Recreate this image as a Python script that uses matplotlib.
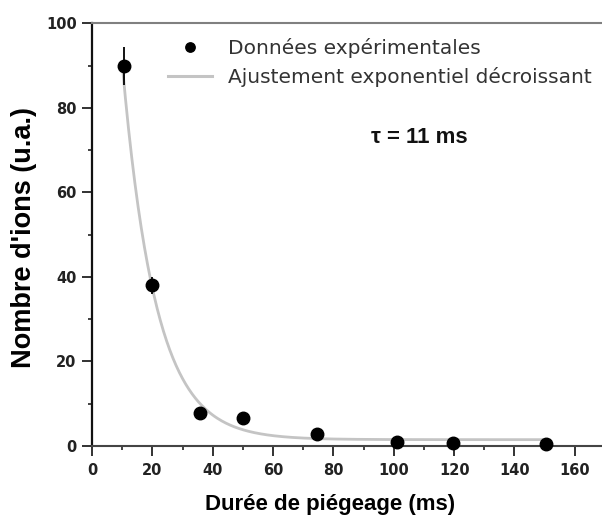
import numpy as np
import matplotlib
matplotlib.use("Agg")
import matplotlib.pyplot as plt
from matplotlib.ticker import MultipleLocator

# ---- data ----
time_ms = [10.5, 20, 35.8, 50, 74.7, 101, 119.5, 150.5]
ions = [90, 38, 7.8, 6.6, 2.8, 0.9, 0.7, 0.5]
ions_err = [4.5, 2.0, 1.5, 0.8, 0.6, 1.3, 0.6, 0.4]

fit_tau = 11.0
fit_amp = 221.0
fit_offset = 1.5
fit_start, fit_end = 10.0, 150.0

x_ticks = [0, 20, 40, 60, 80, 100, 120, 140, 160]
y_ticks = [0, 20, 40, 60, 80, 100]

legend_labels = ["Données expérimentales", "Ajustement exponentiel décroissant"]
xlabel = "Durée de piégeage (ms)"
ylabel = "Nombre d'ions (u.a.)"
tau_text = "τ = 11 ms"

# ---- figure ----
W, H = 602, 523
fig = plt.figure(figsize=(W / 100, H / 100), dpi=100)
ax_left, ax_right = 92 / W, 1.0
ax_bottom, ax_top = 1 - 446 / H, 1 - 23.3 / H
ax = fig.add_axes([ax_left, ax_bottom, ax_right - ax_left, ax_top - ax_bottom])
AXH = 446 - 23.3
AXW = W - 92

xf = np.linspace(fit_start, fit_end, 400)
yf = fit_offset + fit_amp * np.exp(-xf / fit_tau)
ax.plot(xf, yf, color="#c4c4c4", lw=2.0, zorder=2)

ax.errorbar(time_ms, ions, yerr=ions_err, fmt="none", ecolor="black",
            elinewidth=1.3, capsize=0, zorder=3, clip_on=False)
pts, = ax.plot(time_ms, ions, "o", color="black", ms=9, zorder=4, clip_on=False)

ax.set_xlim(0, 169)
ax.set_ylim(0, 100)
ax.set_xticks(x_ticks)
ax.set_yticks(y_ticks)
ax.xaxis.set_minor_locator(MultipleLocator(10))
ax.yaxis.set_minor_locator(MultipleLocator(10))

tick_font = dict(family="DejaVu Sans", weight="bold", size=10.5)
ax.set_xticklabels([str(v) for v in x_ticks], **tick_font)
ax.set_yticklabels([str(v) for v in y_ticks], **tick_font)
ax.tick_params(axis="both", which="major", direction="out", length=7, width=1.3, colors="#222222")
ax.tick_params(axis="both", which="minor", direction="out", length=3, width=1.2, colors="#222222")
ax.tick_params(axis="x", which="major", pad=5)
ax.tick_params(axis="y", which="major", pad=4)

ax.spines["right"].set_visible(False)
ax.spines["top"].set_color("#808080")
ax.spines["top"].set_linewidth(1.5)
ax.spines["left"].set_color("#111111")
ax.spines["left"].set_linewidth(1.6)
ax.spines["bottom"].set_color("#444444")
ax.spines["bottom"].set_linewidth(1.5)

ax.set_xlabel(xlabel, family="Liberation Sans", weight="bold", size=16)
ax.xaxis.set_label_coords((330 - 92) / AXW, (446 - 494) / AXH)
ax.set_ylabel(ylabel, family="Liberation Sans", weight="bold", size=19.5)
ax.yaxis.set_label_coords((37 - 92) / AXW, (446 - 238) / AXH)

ax.text(92.5, 73, tau_text, family="Liberation Sans", weight="bold", size=16,
        color="#111111", ha="left", va="center")

fit_handle = plt.Line2D([], [], color="#c4c4c4", lw=2.2)
leg = ax.legend([pts, fit_handle], legend_labels, loc="upper left",
                bbox_to_anchor=(168 / W, 1 - 38 / H), bbox_transform=fig.transFigure,
                frameon=False, borderpad=0, borderaxespad=0,
                handlelength=2.2, handletextpad=0.8, labelspacing=0.45,
                markerscale=0.75, prop=dict(family="DejaVu Sans", size=14.5))
for t in leg.get_texts():
    t.set_color("#333333")

fig.savefig("out.png", dpi=100)
